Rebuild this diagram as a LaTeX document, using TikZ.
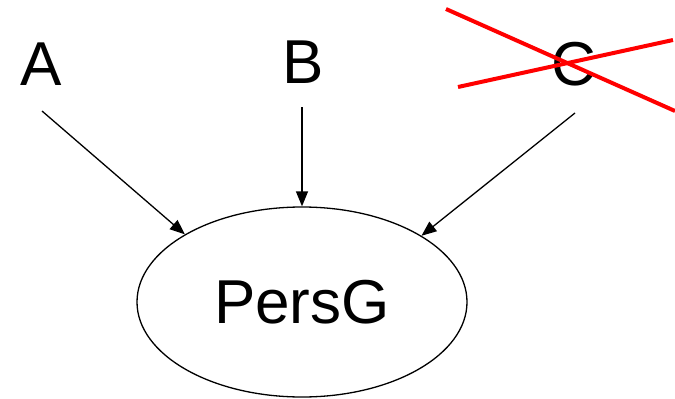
\documentclass[tikz,border=0pt]{standalone}
\usepackage{fontspec}
\setmainfont{Liberation Sans}
\usetikzlibrary{shapes.geometric,arrows.meta}

\begin{document}
\begin{tikzpicture}[x=1pt, y=-1pt,
	every node/.style={font=\fontsize{62}{70}\selectfont, inner sep=0pt},
	edge/.style={-{Triangle[length=15pt, width=12pt]}, line width=1.3pt},
	cross/.style={red, line width=4pt}]
	\useasboundingbox (0,0) rectangle (675,399);
	\node (A) at (41,64) {A};
	\node (B) at (303,62) {B};
	\node (C) at (574,64) {C};
	\node[ellipse, draw, line width=1.3pt, minimum width=330pt, minimum height=190pt] (P) at (302,302) {PersG};
	% arrow tails under the letters
	\coordinate (a) at (42,111);
	\coordinate (b) at (302,107);
	\coordinate (c) at (575,113);
	\draw[edge] (a) -- (P.150);
	\draw[edge] (b) -- (P.north);
	\draw[edge] (c) -- (P.29);
	% C is struck out
	\draw[cross] (446,9) -- (675,111);
	\draw[cross] (458,87) -- (673,40);
\end{tikzpicture}
\end{document}
